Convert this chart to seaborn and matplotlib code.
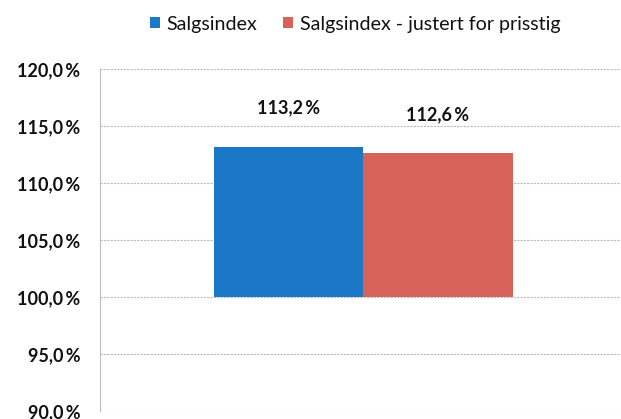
import pandas as pd
import matplotlib.pyplot as plt
import matplotlib.ticker as ticker
import seaborn as sns

# Chart data
series = ["Salgsindex", "Salgsindex - justert for prisstig"]
values = [113.2, 112.6]
baseline = 100.0
y_ticks = [90, 95, 100, 105, 110, 115, 120]
colors = ["#1b78c6", "#d6625a"]

sns.set_style("white")
plt.rcParams['font.family'] = ['Lato', 'DejaVu Sans']
plt.rcParams['text.color'] = '#111111'
plt.rcParams['ytick.color'] = '#111111'


def pct(v):
    return '{:.1f}\u2009%'.format(v).replace('.', ',')


df = pd.DataFrame({"gruppe": [""] * len(series), "serie": series, "verdi": values})
df["hoyde"] = df["verdi"] - baseline

fig = plt.figure(figsize=(6.21, 4.19), dpi=100)
ax = fig.add_axes([0.161, 0.019, 0.839, 0.816])

sns.barplot(data=df, x="gruppe", y="hoyde", hue="serie", palette=colors,
            bottom=baseline, width=0.8, saturation=1, linewidth=0, legend=False, ax=ax)

ax.set_ylim(90, 120)
ax.set_xlim(-0.704, 0.690)
ax.set_yticks(y_ticks)
ax.yaxis.set_major_formatter(ticker.FuncFormatter(lambda y, pos: pct(y)))
for lbl in ax.get_yticklabels():
    lbl.set_fontweight('bold')
    lbl.set_fontsize(13)
ax.tick_params(axis='y', length=0, pad=14)
ax.set_xticks([])
ax.set_xlabel('')
ax.set_ylabel('')
ax.grid(axis='y', color='#bdbdbd', linewidth=0.8, linestyle=(0, (2, 1)))
ax.set_axisbelow(True)
for side in ['top', 'right', 'bottom']:
    ax.spines[side].set_visible(False)
ax.spines['left'].set_color('#bdbdbd')
ax.spines['left'].set_linewidth(0.8)
ax.spines['left'].set_linestyle((0, (2, 1)))

# Value labels above the bars
for p, v in zip(ax.patches, values):
    ax.annotate(pct(v),
                (p.get_x() + p.get_width() / 2., p.get_y() + p.get_height()),
                ha='center', va='center', fontsize=13, fontweight='bold',
                xytext=(0, 28), textcoords='offset points')

ax.legend(list(ax.patches), series, loc='center', bbox_to_anchor=(0.572, 0.942),
          bbox_transform=fig.transFigure, ncol=2, frameon=False, fontsize=14.1,
          handlelength=0.5, handleheight=0.5, handletextpad=0.35, columnspacing=1.3)

plt.savefig('out.png', dpi=100)
